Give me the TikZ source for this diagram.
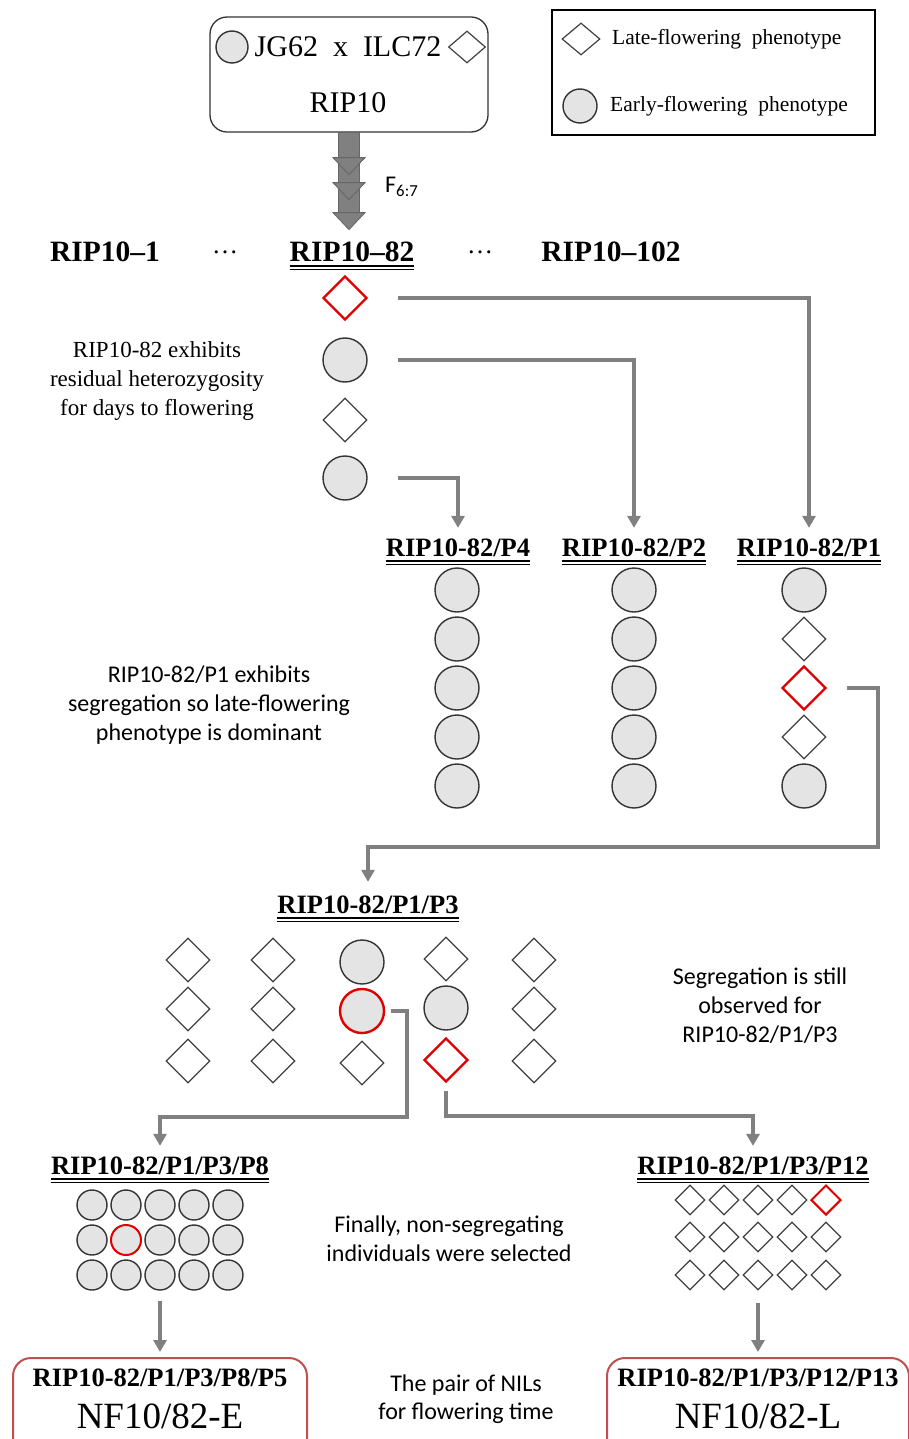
\documentclass[tikz,border=0pt]{standalone}
\usepackage{fontspec}
\setmainfont{Liberation Serif}
\setsansfont{Carlito}
\usetikzlibrary{shapes.geometric,arrows.meta}

\definecolor{flowgray}{HTML}{808080}
\definecolor{pickred}{HTML}{E00000}
\definecolor{nilred}{HTML}{C0504D}
\definecolor{earlyfill}{HTML}{E4E4E4}

\begin{document}
\begin{tikzpicture}[x=1pt,y=-1pt,
  early/.style={circle,draw=black!80,fill=earlyfill,line width=1.4pt,minimum size=44pt,inner sep=0pt},
  late/.style={diamond,draw=black!75,line width=1.2pt,minimum size=44pt,inner sep=0pt},
  picked/.style={draw=pickred,line width=2.4pt},
  gridsize/.style={minimum size=30pt},
  rowhead/.style={font=\bfseries\fontsize{26.5}{28}\selectfont,inner sep=0pt},
  note/.style={font=\fontsize{23}{29}\selectfont,align=center},
  snote/.style={font=\sffamily\fontsize{24}{29}\selectfont,align=center},
  flow/.style={draw=flowgray,line width=3.5pt,>={Triangle[length=12pt,width=13pt]},->,shorten >=11pt},
  nilbox/.style={draw=nilred,line width=2pt,rounded corners=18pt,minimum height=140pt,anchor=north}]
  \useasboundingbox (0,0) rectangle (909,1439);

  \node[draw=black!80,line width=1.3pt,rounded corners=17pt,minimum width=278pt,minimum height=115pt] (cross) at (349,74.5) {};
  \node[early,minimum size=32pt] (jg) at (232,47) {};
  \node[late,minimum width=37pt,minimum height=32pt] (ilc) at (467,47) {};
  \node[font=\fontsize{30}{32}\selectfont] (parents) at (348,47) {JG62\ \ x\ \ ILC72};
  \node[font=\fontsize{30}{32}\selectfont] (rip) at (348,103) {RIP10};

  \node[draw,line width=1.2pt,minimum width=323pt,minimum height=125pt] (legend) at (713.5,72.5) {};
  \node[late,minimum width=38pt,minimum height=32pt] (keylate) at (581,39) {};
  \node[early,minimum size=34pt] (keyearly) at (580,106) {};
  \node[anchor=west,inner sep=0pt,font=\fontsize{21.5}{24}\selectfont] (latetxt) at (612,39) {Late-flowering\ \ phenotype};
  \node[anchor=west,inner sep=0pt,font=\fontsize{21.5}{24}\selectfont] (earlytxt) at (610,106) {Early-flowering\ \ phenotype};

  \filldraw[fill=flowgray,draw=black!60,line width=0.8pt] ([xshift=-10.5pt]cross.south) rectangle ([xshift=10.5pt,yshift=-82pt]cross.south);
  \foreach \dy in {25,50,80}
    \filldraw[fill=flowgray,draw=black!60,line width=0.8pt] ([xshift=-16pt,yshift=-\dy pt]cross.south) -- ++(32,0) -- ++(-16,17) -- cycle;
  \node[anchor=base west,inner sep=0pt,font=\sffamily\fontsize{24}{26}\selectfont] (gen) at (385,193) {F\textsubscript{6:7}};

  \node[rowhead,font=\bfseries\fontsize{29.5}{31}\selectfont] (r1) at (105,252) {RIP10--1};
  \node[font=\fontsize{26}{28}\selectfont] (dotsa) at (225,252) {\dots};
  \node[rowhead,font=\bfseries\fontsize{29.5}{31}\selectfont] (r82) at (352,252) {RIP10--82};
  \node[font=\fontsize{26}{28}\selectfont] (dotsb) at (480,252) {\dots};
  \node[rowhead,font=\bfseries\fontsize{29.5}{31}\selectfont] (r102) at (611,252) {RIP10--102};

  \node[late,picked] (a1) at (345,298) {};
  \node[early] (a2) at (345,360) {};
  \node[late] (a3) at (345,420) {};
  \node[early] (a4) at (345,478) {};
  \node[note] (hetero) at (157,381) {RIP10-82 exhibits\\residual heterozygosity\\for days to flowering};

  \node[rowhead] (p4) at (458,548) {RIP10-82/P4};
  \node[rowhead] (p2) at (634,548) {RIP10-82/P2};
  \node[rowhead] (p1) at (809,548) {RIP10-82/P1};
  \draw[flow] ([xshift=30pt]a1.east) -| (p1.north);
  \draw[flow] ([xshift=30pt]a2.east) -| (p2.north);
  \draw[flow] ([xshift=30pt]a4.east) -| (p4.north);

  \foreach \i/\y in {1/590,2/639,3/688,4/737,5/786} {
    \node[early] (b\i) at (457,\y) {};
    \node[early] (c\i) at (634,\y) {};
  }
  \node[early] (d1) at (804,590) {};
  \node[late] (d2) at (804,639) {};
  \node[late,picked] (d3) at (804,688) {};
  \node[late] (d4) at (804,737) {};
  \node[early] (d5) at (804,786) {};
  \node[snote] (segr) at (209,705.5) {RIP10-82/P1 exhibits\\segregation so late-flowering\\phenotype is dominant};

  \node[rowhead] (p3) at (368,905) {RIP10-82/P1/P3};
  \coordinate (k1) at (878,847);
  \draw[flow,shorten >=14pt] ([xshift=20pt]d3.east) -| (k1) -| (p3.north);

  \foreach \c/\x in {1/188,2/273,5/534}
    \foreach \r/\y in {1/960,2/1009,3/1061}
      \node[late] (g\c\r) at (\x,\y) {};
  \node[early] (g31) at (362,962) {};
  \node[early,picked] (g32) at (362,1011) {};
  \node[late] (g33) at (362,1063) {};
  \node[late] (g41) at (446,959) {};
  \node[early] (g42) at (446,1008) {};
  \node[late,picked] (g43) at (446,1060) {};
  \node[snote] (still) at (760,1006) {Segregation is still\\observed for\\RIP10-82/P1/P3};

  \node[rowhead] (p8) at (160,1166) {RIP10-82/P1/P3/P8};
  \node[rowhead] (p12) at (753,1166) {RIP10-82/P1/P3/P12};
  \coordinate (k2) at (407,1117);
  \coordinate (k3) at (446,1116);
  \draw[flow] ([xshift=6pt]g32.east) -| (k2) -| (p8.north);
  \draw[flow] ([yshift=-8pt]g43.south) -- (k3) -| (p12.north);

  \foreach \c/\x in {1/92,2/126,3/160,4/194,5/228} {
    \node[early,gridsize] (e\c1) at (\x,1205) {};
    \node[early,gridsize] (e\c3) at (\x,1275) {};
  }
  \foreach \c/\x in {1/92,3/160,4/194,5/228}
    \node[early,gridsize] (e\c2) at (\x,1240) {};
  \node[early,gridsize,picked,line width=2pt] (e22) at (126,1240) {};

  \foreach \c/\x in {1/690,2/724,3/758,4/792,5/826} {
    \node[late,gridsize] (f\c2) at (\x,1237) {};
    \node[late,gridsize] (f\c3) at (\x,1275) {};
  }
  \foreach \c/\x in {1/690,2/724,3/758,4/792}
    \node[late,gridsize] (f\c1) at (\x,1200) {};
  \node[late,gridsize,picked,line width=2pt] (f51) at (826,1200) {};
  \node[snote] (final) at (449,1238.5) {Finally, non-segregating\\individuals were selected};

  \foreach \h in {r82,p4,p2,p1,p3,p8,p12} {
    \draw[line width=2.2pt] ([yshift=-4pt]\h.base west) -- ([yshift=-4pt]\h.base east);
    \draw[line width=0.8pt] ([yshift=-7.5pt]\h.base west) -- ([yshift=-7.5pt]\h.base east);
  }

  \node[nilbox,minimum width=294pt] (ebox) at (160,1357) {};
  \node[nilbox,minimum width=302pt] (lbox) at (758,1357) {};
  \node[rowhead] (eid) at (160,1378) {RIP10-82/P1/P3/P8/P5};
  \node[font=\fontsize{37}{40}\selectfont] (ename) at (160,1416) {NF10/82-E};
  \node[rowhead] (lid) at (758,1378) {RIP10-82/P1/P3/P12/P13};
  \node[font=\fontsize{37}{40}\selectfont] (lname) at (758,1416) {NF10/82-L};
  \node[snote,font=\sffamily\fontsize{24}{28}\selectfont] (pair) at (466,1399) {The pair of NILs\\for flowering time};
  \draw[flow,shorten <=10pt,shorten >=5pt] (e33.south) -- (ebox.north);
  \draw[flow,shorten <=12pt,shorten >=5pt] (f33.south) -- (lbox.north);
\end{tikzpicture}
\end{document}
